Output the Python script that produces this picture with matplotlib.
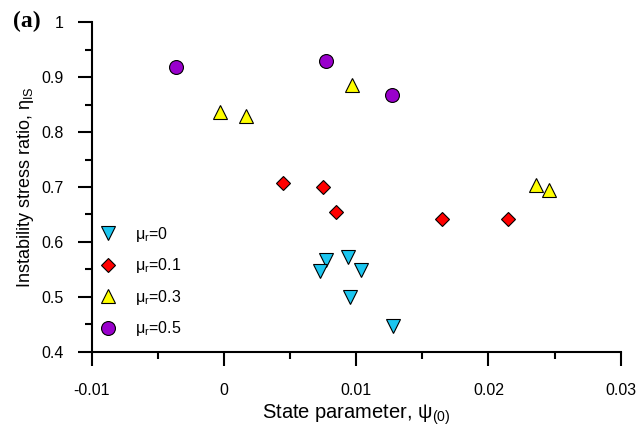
import numpy as np
import matplotlib
matplotlib.use("Agg")
import matplotlib.pyplot as plt

plt.rcParams.update({
    "font.family": ["Liberation Sans", "DejaVu Sans"],
    "mathtext.fontset": "custom",
    "mathtext.rm": "Liberation Sans",
    "mathtext.it": "Liberation Sans:italic",
    "font.size": 11,
})

# Data: state parameter psi(0) vs instability stress ratio
psi_mu0 = [0.0077, 0.0073, 0.0094, 0.0104, 0.0095, 0.0128]
eta_mu0 = [0.568, 0.547, 0.573, 0.549, 0.500, 0.447]

psi_mu01 = [0.0045, 0.0075, 0.0085, 0.0165, 0.0215]
eta_mu01 = [0.707, 0.700, 0.655, 0.642, 0.641]

psi_mu03 = [-0.0003, 0.0017, 0.0097, 0.0236, 0.0246]
eta_mu03 = [0.836, 0.829, 0.886, 0.703, 0.694]

psi_mu05 = [-0.0036, 0.0077, 0.0127]
eta_mu05 = [0.918, 0.929, 0.868]

labels = ["\u03bc$_\\mathrm{r}$=0", "\u03bc$_\\mathrm{r}$=0.1",
          "\u03bc$_\\mathrm{r}$=0.3", "\u03bc$_\\mathrm{r}$=0.5"]

fig = plt.figure(figsize=(6.4, 4.29), dpi=100)
ax = fig.add_axes([0.143, 0.180, 0.827, 0.768])

ax.plot(psi_mu0, eta_mu0, linestyle="", marker="v", ms=9.5,
        color="#1CC6F0", mec="k", mew=0.8, label=labels[0])
ax.plot(psi_mu01, eta_mu01, linestyle="", marker="D", ms=7,
        color="#FF0000", mec="k", mew=0.8, label=labels[1])
ax.plot(psi_mu03, eta_mu03, linestyle="", marker="^", ms=9.5,
        color="#FFFF00", mec="k", mew=0.8, label=labels[2])
ax.plot(psi_mu05, eta_mu05, linestyle="", marker="o", ms=10,
        color="#9900CC", mec="k", mew=0.8, label=labels[3])

ax.set_xlim(-0.01, 0.03)
ax.set_ylim(0.4, 1.0)
ax.set_xticks([-0.01, 0, 0.01, 0.02, 0.03])
ax.set_xticklabels(["-0.01", "0", "0.01", "0.02", "0.03"])
ax.set_xticks(np.arange(-0.005, 0.03, 0.01), minor=True)
ax.set_yticks([0.4, 0.5, 0.6, 0.7, 0.8, 0.9, 1.0])
ax.set_yticklabels(["0.4", "0.5", "0.6", "0.7", "0.8", "0.9", "1"])
ax.set_yticks(np.arange(0.45, 1.0, 0.1), minor=True)

for side in ["top", "right"]:
    ax.spines[side].set_visible(False)
for side in ["left", "bottom"]:
    ax.spines[side].set_linewidth(1.5)
ax.tick_params(which="major", direction="out", length=10, width=1.5,
               labelsize=11.5)
ax.tick_params(which="minor", direction="out", length=5, width=1.5)
ax.tick_params(axis="x", which="major", pad=12.5)
ax.tick_params(axis="y", which="major", pad=10)

ax.set_xlabel("State parameter, \u03c8$_\\mathrm{(0)}$", fontsize=14.5,
              labelpad=3)
ax.set_ylabel("Instability stress ratio, \u03b7$_\\mathrm{IS}$", fontsize=13,
              labelpad=4)

ax.legend(loc="lower left", bbox_to_anchor=(-0.006, 0.022), frameon=False,
          fontsize=11.5, handlelength=1.6, handletextpad=0.9,
          labelspacing=0.78, borderaxespad=0.0)

fig.text(0.02, 0.95, "(a)", family="Liberation Serif", weight="bold",
         fontsize=17, va="center")

fig.savefig("out.png", dpi=100)
